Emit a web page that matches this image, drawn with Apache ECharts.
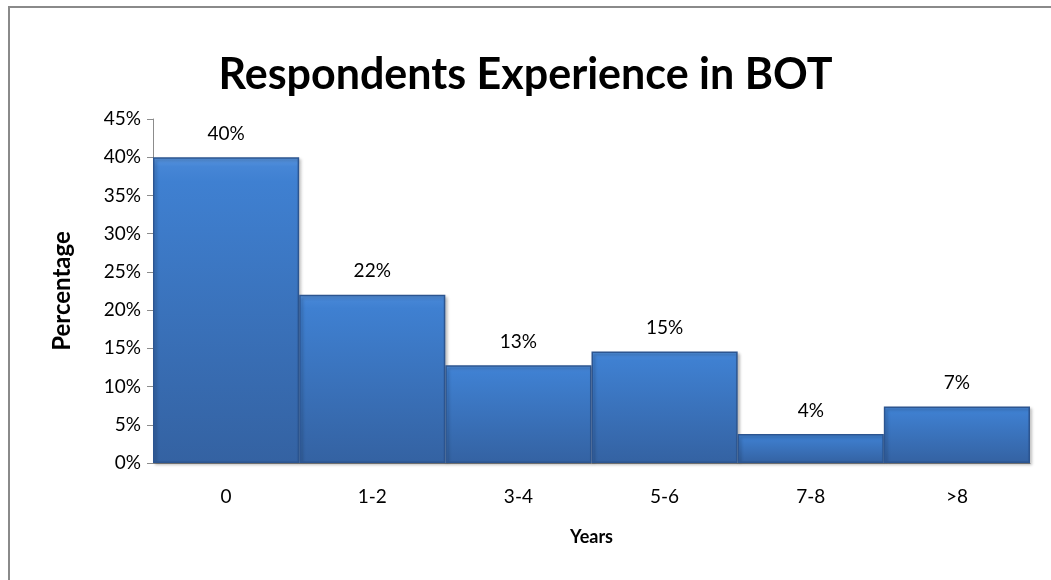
<!DOCTYPE html>
<html>
<head>
<meta charset="utf-8">
<script src="https://cdn.jsdelivr.net/npm/echarts@6/dist/echarts.min.js"></script>
<style>html,body{margin:0;padding:0;background:#fff}#c{width:1051px;height:580px}</style>
</head>
<body>
<div id="c"></div>
<script>
var categories = ['0', '1-2', '3-4', '5-6', '7-8', '>8'];
var values = [0.40, 0.22, 0.128, 0.146, 0.038, 0.074];
var yTicks = { min: 0, max: 0.45, interval: 0.05 };
var FONT = 'Lato, "Open Sans", sans-serif';

var chart = echarts.init(document.getElementById('c'), null, { renderer: 'canvas' });
chart.setOption({
  backgroundColor: '#fff',
  animation: false,
  graphic: [{
    type: 'rect',
    shape: { x: 9, y: 7, width: 1100, height: 700 },
    style: { fill: 'none', stroke: '#8a8a8a', lineWidth: 2 },
    silent: true
  }],
  title: {
    text: 'Respondents Experience in BOT',
    left: 'center',
    top: 49,
    textStyle: { fontFamily: FONT, fontWeight: 'bold', fontSize: 43, color: '#000' }
  },
  grid: { left: 153, right: 21, top: 119, bottom: 117 },
  xAxis: {
    type: 'category',
    data: categories,
    name: 'Years',
    nameLocation: 'middle',
    nameGap: 65,
    nameTextStyle: { fontFamily: FONT, fontWeight: 'bold', fontSize: 18, color: '#000' },
    axisLine: { lineStyle: { color: '#8c8c8c', width: 1 } },
    axisTick: { show: false },
    axisLabel: { fontFamily: FONT, fontSize: 19, color: '#000', margin: 24 }
  },
  yAxis: {
    type: 'value',
    min: yTicks.min,
    max: yTicks.max,
    interval: yTicks.interval,
    name: 'Percentage',
    nameLocation: 'middle',
    nameGap: 79,
    nameTextStyle: { fontFamily: FONT, fontWeight: 'bold', fontSize: 24, color: '#000' },
    axisLine: { show: true, lineStyle: { color: '#8c8c8c', width: 1 } },
    axisTick: { show: true, length: 6, lineStyle: { color: '#8c8c8c' } },
    splitLine: { show: false },
    axisLabel: {
      fontFamily: FONT, fontSize: 19, color: '#000', margin: 12,
      formatter: function (v) { return Math.round(v * 100) + '%'; }
    }
  },
  series: [{
    type: 'bar',
    data: values,
    barCategoryGap: '0%',
    itemStyle: {
      color: new echarts.graphic.LinearGradient(0, 0, 0, 1, [
        { offset: 0, color: '#5b98e2' },
        { offset: 0.03, color: '#4686d6' },
        { offset: 0.08, color: '#3f80d1' },
        { offset: 1, color: '#3462a2' }
      ]),
      borderColor: '#2c5590',
      borderWidth: 1.5,
      shadowColor: 'rgba(0,0,0,0.25)',
      shadowBlur: 3,
      shadowOffsetX: 2,
      shadowOffsetY: 2
    },
    label: {
      show: true,
      position: 'top',
      distance: 14,
      fontFamily: FONT, fontSize: 19, color: '#000',
      formatter: function (p) { return Math.round(p.value * 100) + '%'; }
    }
  }]
});
</script>
</body>
</html>
